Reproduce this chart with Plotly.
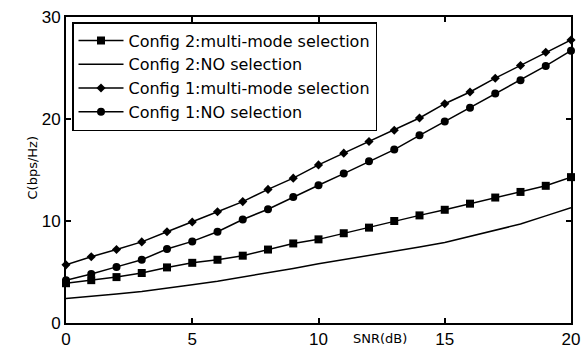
import plotly.graph_objects as go

snr = list(range(0, 21))

cfg2_multi = [3.9, 4.2, 4.5, 4.9, 5.45, 5.9, 6.2, 6.6, 7.2, 7.8, 8.2, 8.8, 9.35, 10.0, 10.55,
              11.1, 11.7, 12.3, 12.85, 13.45, 14.3]
cfg2_no = [2.4, 2.6, 2.85, 3.1, 3.4, 3.75, 4.1, 4.5, 4.9, 5.35, 5.8, 6.2, 6.6, 7.05, 7.45,
           7.9, 8.5, 9.1, 9.7, 10.5, 11.3]
cfg1_multi = [5.7, 6.5, 7.2, 7.95, 8.95, 9.9, 10.9, 11.9, 13.1, 14.2, 15.5, 16.65, 17.8, 18.9,
              20.1, 21.5, 22.65, 24.0, 25.25, 26.55, 27.75]
cfg1_no = [4.2, 4.8, 5.5, 6.2, 7.25, 8.0, 8.95, 10.15, 11.15, 12.35, 13.5, 14.65, 15.85, 17.0,
           18.4, 19.75, 21.1, 22.5, 23.8, 25.2, 26.7]

names = ["Config 2:multi-mode selection", "Config 2:NO selection",
         "Config 1:multi-mode selection", "Config 1:NO selection"]

x_ticks = [0, 5, 10, 15, 20]
y_ticks = [0, 10, 20, 30]

FONT = "Liberation Sans, Arial, sans-serif"
LFONT = "DejaVu Sans, Verdana, sans-serif"

fig = go.Figure()
fig.add_trace(go.Scatter(x=snr, y=cfg2_multi, name=names[0], mode="lines+markers",
                         line=dict(color="black", width=1.5),
                         marker=dict(symbol="square", size=8, color="black"), cliponaxis=False))
fig.add_trace(go.Scatter(x=snr, y=cfg2_no, name=names[1], mode="lines",
                         line=dict(color="black", width=1.5), cliponaxis=False))
fig.add_trace(go.Scatter(x=snr, y=cfg1_multi, name=names[2], mode="lines+markers",
                         line=dict(color="black", width=1.5),
                         marker=dict(symbol="diamond", size=7, color="black"), cliponaxis=False))
fig.add_trace(go.Scatter(x=snr, y=cfg1_no, name=names[3], mode="lines+markers",
                         line=dict(color="black", width=1.5),
                         marker=dict(symbol="circle", size=8, color="black"), cliponaxis=False))

axis_common = dict(showgrid=False, zeroline=False, showline=True, linecolor="black",
                   linewidth=2, mirror="ticks", ticks="inside", ticklen=5,
                   tickcolor="black", tickwidth=1.5, automargin=False,
                   tickfont=dict(family=FONT, size=17, color="black"))

fig.update_xaxes(range=[0, 20], tickvals=x_ticks, ticktext=[str(v) for v in x_ticks], **axis_common)
fig.update_yaxes(range=[0, 30], tickvals=y_ticks, ticktext=[str(v) for v in y_ticks], **axis_common)

W, H = 582, 358
l, r, t, b = 66, 11, 17, 35
pw, ph = W - l - r, H - t - b

def px_to_paper(x, y):
    return (x - l) / pw, (H - b - y) / ph

lx, ly = px_to_paper(72, 22)
sx, sy = px_to_paper(380, 348)
cx, cy = px_to_paper(22, 168)

fig.update_layout(
    width=W, height=H,
    margin=dict(l=l, r=r, t=t, b=b, autoexpand=False),
    paper_bgcolor="white", plot_bgcolor="white",
    font=dict(family=FONT, color="black"),
    legend=dict(x=lx, y=ly, xanchor="left", yanchor="top",
                bgcolor="white", bordercolor="black", borderwidth=1.5,
                font=dict(family=LFONT, size=16, color="black"),
                itemwidth=45),
    annotations=[
        dict(text="SNR(dB)", x=sx, y=sy, xref="paper", yref="paper",
             showarrow=False, font=dict(family=LFONT, size=13, color="black")),
        dict(text="C(bps/Hz)", x=cx, y=cy, xref="paper", yref="paper",
             showarrow=False, textangle=-90, font=dict(family=LFONT, size=13, color="black")),
    ],
)

fig.write_html("out.html", config={"displayModeBar": False},
               post_script="document.body.style.margin='0';document.body.style.overflow='hidden';")
